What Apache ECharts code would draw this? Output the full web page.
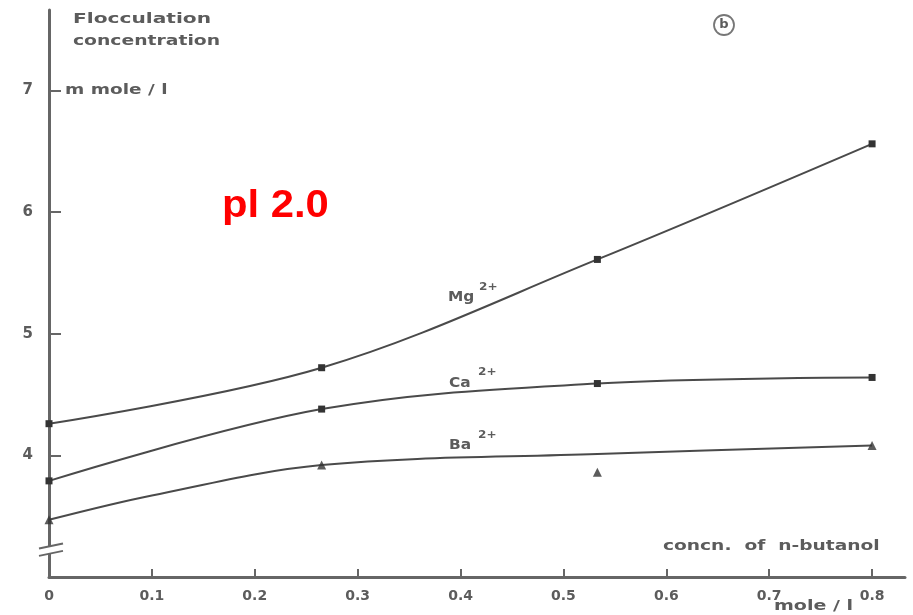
<!DOCTYPE html>
<html>
<head>
<meta charset="utf-8">
<script src="https://cdn.jsdelivr.net/npm/echarts@6/dist/echarts.min.js"></script>
<style>
html,body{margin:0;padding:0;background:#fff;}
#chart{width:913px;height:615px;}
</style>
</head>
<body>
<div id="chart"></div>
<script>
// ---- data ----
const xTickValues = [0, 0.1, 0.2, 0.3, 0.4, 0.5, 0.6, 0.7, 0.8];
const xTickLabels = ['0', '0.1', '0.2', '0.3', '0.4', '0.5', '0.6', '0.7', '0.8'];
const yTickValues = [4, 5, 6, 7];
const yTickLabels = ['4', '5', '6', '7'];

const butanolConc = [0, 0.265, 0.533, 0.8];            // mole / l
const mgValues = [4.26, 4.72, 5.61, 6.56];              // Mg2+ flocculation conc.
const caValues = [3.79, 4.38, 4.59, 4.64];              // Ca2+
const baValues = [3.47, 3.92, 3.86, 4.08];              // Ba2+ measured points
const baCurveConc = [0, 0.1, 0.265, 0.533, 0.8];        // hand-drawn Ba2+ curve
const baCurveValues = [3.47, 3.67, 3.92, 4.01, 4.08];

const ink = '#4a4a4a';
const textInk = '#5c5c5c';

const chart = echarts.init(document.getElementById('chart'), null, {renderer: 'canvas'});

function pairs(xs, ys) { return xs.map((x, i) => [x, ys[i]]); }

const option = {
  backgroundColor: '#fff',
  animation: false,
  grid: {left: 49, right: 8, top: 10, bottom: 38, containLabel: false},
  xAxis: {
    type: 'value', min: 0, max: 0.832,
    axisLine: {show: true, onZero: false, lineStyle: {color: '#666', width: 3}},
    axisTick: {show: true, inside: true, length: 8, customValues: xTickValues, lineStyle: {color: '#666', width: 2}},
    axisLabel: {
      show: true, margin: 12, customValues: xTickValues,
      formatter: v => { const i = xTickValues.findIndex(t => Math.abs(t - v) < 1e-6); return i >= 0 ? xTickLabels[i] : ''; },
      color: textInk, fontFamily: 'DejaVu Sans', fontSize: 14, fontWeight: 'bold'
    },
    splitLine: {show: false}
  },
  yAxis: {
    type: 'value', min: 3, max: 7.66,
    axisLine: {show: true, onZero: false, lineStyle: {color: '#666', width: 3}},
    axisTick: {show: true, inside: true, length: 12, customValues: yTickValues, lineStyle: {color: '#666', width: 2}},
    axisLabel: {
      show: true, margin: 16, customValues: yTickValues,
      formatter: v => { const i = yTickValues.findIndex(t => Math.abs(t - v) < 1e-6); return i >= 0 ? yTickLabels[i] : ''; },
      color: textInk, fontFamily: 'DejaVu Sans', fontSize: 15, fontWeight: 'bold'
    },
    splitLine: {show: false}
  },
  series: [
    {
      name: 'Mg2+', type: 'line', smooth: 0.35, data: pairs(butanolConc, mgValues),
      symbol: 'rect', symbolSize: 7, showSymbol: true,
      lineStyle: {color: ink, width: 2}, itemStyle: {color: '#333'}, z: 3
    },
    {
      name: 'Ca2+', type: 'line', smooth: 0.35, data: pairs(butanolConc, caValues),
      symbol: 'rect', symbolSize: 7, showSymbol: true,
      lineStyle: {color: ink, width: 2}, itemStyle: {color: '#333'}, z: 3
    },
    {
      name: 'Ba2+ curve', type: 'line', smooth: 0.35, data: pairs(baCurveConc, baCurveValues),
      showSymbol: false, symbol: 'none',
      lineStyle: {color: ink, width: 2}, z: 3
    },
    {
      name: 'Ba2+', type: 'scatter', data: pairs(butanolConc, baValues),
      symbol: 'triangle', symbolSize: 9, itemStyle: {color: '#333'}, z: 4
    }
  ]
};
chart.setOption(option);

// ---- annotations ----
const txt = (x, y, s, size, extra) => Object.assign({
  type: 'text', x: x, y: y,
  style: {text: s, fill: textInk, font: 'bold ' + size + 'px "DejaVu Sans"', textAlign: 'left', textVerticalAlign: 'middle'}
}, extra || {});

const p = (xv, yv) => chart.convertToPixel({gridIndex: 0}, [xv, yv]);
const axisX = p(0, 3)[0];
const b1 = p(0, 3.25)[1], b2 = p(0, 3.19)[1];

chart.setOption({
  graphic: [
    txt(73, 19, 'Flocculation', 14, {scaleX: 1.44}),
    txt(73, 41, 'concentration', 14, {scaleX: 1.34}),
    txt(65, 90, 'm mole / l', 14, {scaleX: 1.32}),
    {type: 'circle', shape: {cx: 724, cy: 25, r: 10}, style: {fill: 'none', stroke: '#777', lineWidth: 1.8}},
    {type: 'text', x: 724, y: 25, style: {text: 'b', fill: textInk, font: 'bold 13px "DejaVu Sans"', textAlign: 'center', textVerticalAlign: 'middle'}},
    {type: 'text', x: 222, y: 207, style: {text: 'pl 2.0', fill: '#ff0000', font: 'bold 38px "Liberation Sans"', textAlign: 'left', textVerticalAlign: 'middle'}, scaleX: 1.1},
    txt(448, 297, 'Mg', 14, {scaleX: 1.1}),
    txt(479, 287, '2+', 11, {scaleX: 1.1}),
    txt(449, 383, 'Ca', 14, {scaleX: 1.1}),
    txt(478, 372, '2+', 11, {scaleX: 1.1}),
    txt(449, 445, 'Ba', 14, {scaleX: 1.1}),
    txt(478, 435, '2+', 11, {scaleX: 1.1}),
    txt(663, 546, 'concn.  of  n-butanol', 14, {scaleX: 1.33}),
    txt(774, 606, 'mole / l', 14, {scaleX: 1.36}),
    // axis break
    {type: 'rect', shape: {x: axisX - 3, y: b1, width: 6, height: b2 - b1}, style: {fill: '#fff'}, z: 10},
    {type: 'line', shape: {x1: axisX - 10, y1: b1 + 2, x2: axisX + 14, y2: b1 - 3}, style: {stroke: '#666', lineWidth: 2}, z: 11},
    {type: 'line', shape: {x1: axisX - 10, y1: b2 + 2, x2: axisX + 14, y2: b2 - 3}, style: {stroke: '#666', lineWidth: 2}, z: 11}
  ]
});
</script>
</body>
</html>
